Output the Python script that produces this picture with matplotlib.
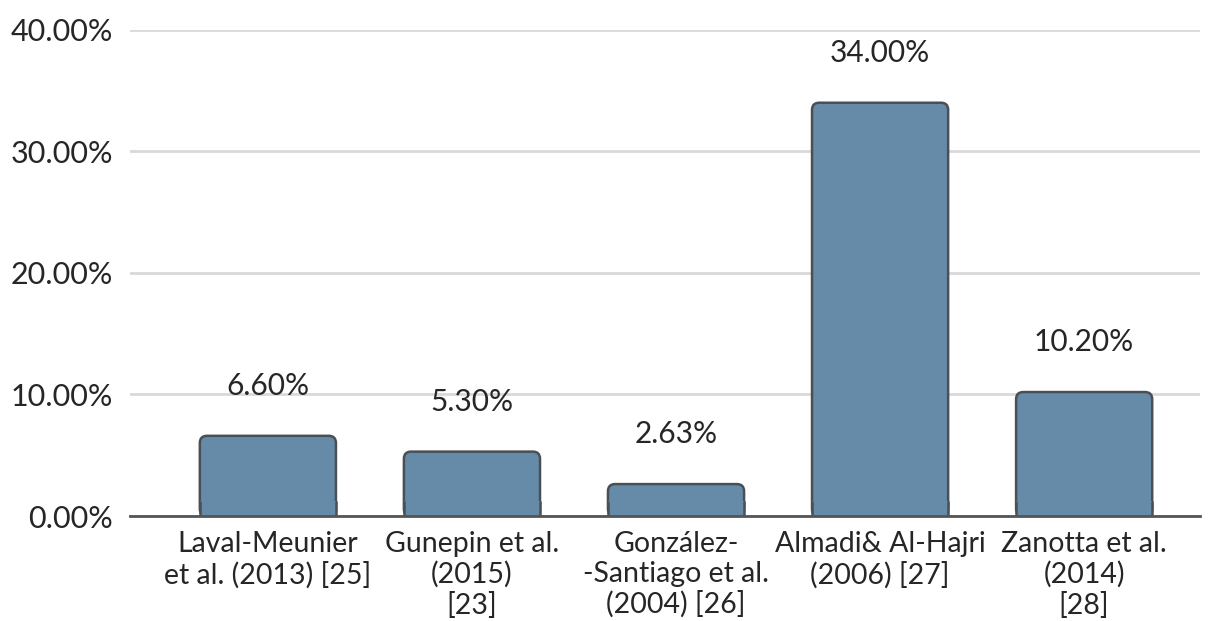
import matplotlib

matplotlib.use("Agg")
import matplotlib.pyplot as plt
from matplotlib.patches import FancyBboxPatch

categories = [
    "Laval-Meunier\net al. (2013) [25]",
    "Gunepin et al.\n(2015)\n[23]",
    "González-\n-Santiago et al.\n(2004) [26]",
    "Almadi& Al-Hajri\n(2006) [27]",
    "Zanotta et al.\n(2014)\n[28]",
]
values = [6.60, 5.30, 2.63, 34.00, 10.20]
yticks = [0, 10, 20, 30, 40]

plt.rcParams["font.family"] = ["Lato", "DejaVu Sans"]
text_color = "#262626"
bar_color = "#668ba9"
edge_color = "#4a4f55"

fig = plt.figure(figsize=(12.11, 6.21), dpi=100)
ax = fig.add_axes([0.1073, 0.169, 0.884, 0.783])

x = list(range(len(values)))
bars = ax.bar(x, values, width=0.667, color="none", edgecolor="none", zorder=3)
ax.set_xlim(-0.676, 4.57)
ax.set_ylim(0, 40)

# rounded-top bars built from the bar geometry
aspect = (40 / 486) / (5.246 / 1070)
for b in bars:
    x0, w, h = b.get_x(), b.get_width(), b.get_height()
    ax.add_patch(FancyBboxPatch(
        (x0, 0), w, h,
        boxstyle="round,pad=0,rounding_size=0.035",
        mutation_aspect=aspect,
        facecolor=bar_color, edgecolor=edge_color, linewidth=1.8, zorder=3,
    ))
    # square off bottom corners
    low = min(h, 1.2)
    ax.add_patch(plt.Rectangle((x0, 0), w, low, facecolor=bar_color, edgecolor="none", zorder=3))
    ax.plot([x0, x0], [0, low], color=edge_color, lw=1.8, zorder=4, solid_capstyle="butt")
    ax.plot([x0 + w, x0 + w], [0, low], color=edge_color, lw=1.8, zorder=4, solid_capstyle="butt")

for xi, v in zip(x, values):
    ax.annotate(f"{v:.2f}%", (xi, v), xytext=(0, 36), textcoords="offset points",
                ha="center", va="center", fontsize=21.5, color=text_color)

ax.set_yticks(yticks)
ax.set_yticklabels([f"{t:.2f}%" for t in yticks], fontsize=22, color=text_color)
ax.set_xticks(x)
ax.set_xticklabels(categories, fontsize=20.5, color=text_color, linespacing=1.17)
ax.tick_params(axis="both", length=0)
ax.tick_params(axis="y", pad=12)
ax.tick_params(axis="x", pad=11)

ax.grid(axis="y", color="#d9d9d9", linewidth=2, zorder=0)
for s in ["top", "right", "left"]:
    ax.spines[s].set_visible(False)
ax.spines["bottom"].set_color("#555555")
ax.spines["bottom"].set_linewidth(2)
ax.spines["bottom"].set_zorder(5)

fig.savefig("out.png", dpi=100)
